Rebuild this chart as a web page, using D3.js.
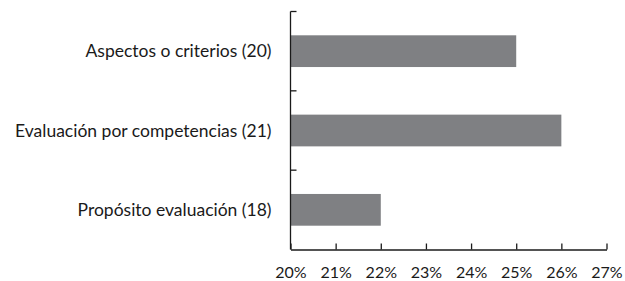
<!DOCTYPE html>
<html>
<head>
<meta charset="utf-8">
<script src="https://cdn.jsdelivr.net/npm/d3@7/dist/d3.min.js"></script>
<style>
  html, body { margin: 0; padding: 0; background: #fff; }
  svg text { font-family: "Lato", "Open Sans", sans-serif; fill: #1a1a1a; }
</style>
</head>
<body>
<svg id="chart" width="625" height="281"></svg>
<script>
const categories = ["Aspectos o criterios (20)", "Evaluación por competencias (21)", "Propósito evaluación (18)"];
const values = [25, 26, 22];
const tickValues = [20, 21, 22, 23, 24, 25, 26, 27];

(function () {
const svg = d3.select("#chart");
const margin = { left: 290.5, right: 18.5, top: 11.5, bottom: 31.5 };
const W = 625, H = 281;

const x = d3.scaleLinear().domain([20, 27]).range([margin.left, W - margin.right]);
const y = d3.scaleBand().domain(categories).range([margin.top, H - margin.bottom]).paddingInner(0.6).paddingOuter(0.3);

// bars
svg.append("g").selectAll("rect").data(categories).join("rect")
  .attr("x", x(20))
  .attr("y", d => y(d))
  .attr("width", (d, i) => x(values[i]) - x(20))
  .attr("height", y.bandwidth())
  .attr("fill", "#7f8083");

// x axis
const xAxis = d3.axisBottom(x).tickValues(tickValues).tickFormat(d => d + "%")
  .tickSizeInner(-6).tickSizeOuter(0).tickPadding(17);
const gx = svg.append("g").attr("transform", `translate(0,${H - margin.bottom})`).call(xAxis);
gx.select(".domain").attr("stroke", "#1a1a1a").attr("stroke-width", 1.3);
gx.selectAll(".tick line").attr("stroke", "#1a1a1a").attr("stroke-width", 1.3);
gx.selectAll(".tick text").attr("font-size", 16).attr("fill", "#1a1a1a").style("font-family", "Lato, 'Open Sans', sans-serif");

// y axis (ticks at band boundaries, pointing inward)
const yAxisLine = svg.append("g");
const y0 = margin.top, y1 = H - margin.bottom;
yAxisLine.append("line").attr("x1", x(20)).attr("x2", x(20)).attr("y1", y0).attr("y2", y1)
  .attr("stroke", "#1a1a1a").attr("stroke-width", 1.3);
const boundaries = categories.map((d, i) => y0 + i * (y1 - y0) / categories.length);
yAxisLine.selectAll("line.t").data(boundaries).join("line").attr("class", "t")
  .attr("x1", x(20)).attr("x2", x(20) + 6).attr("y1", d => d).attr("y2", d => d)
  .attr("stroke", "#1a1a1a").attr("stroke-width", 1.3);

// y labels
svg.append("g").selectAll("text").data(categories).join("text")
  .attr("x", x(20) - 19)
  .attr("y", d => y(d) + y.bandwidth() / 2)
  .attr("dy", "0.35em")
  .attr("text-anchor", "end")
  .attr("font-size", 17.5)
  .text(d => d);
})();
</script>
</body>
</html>
